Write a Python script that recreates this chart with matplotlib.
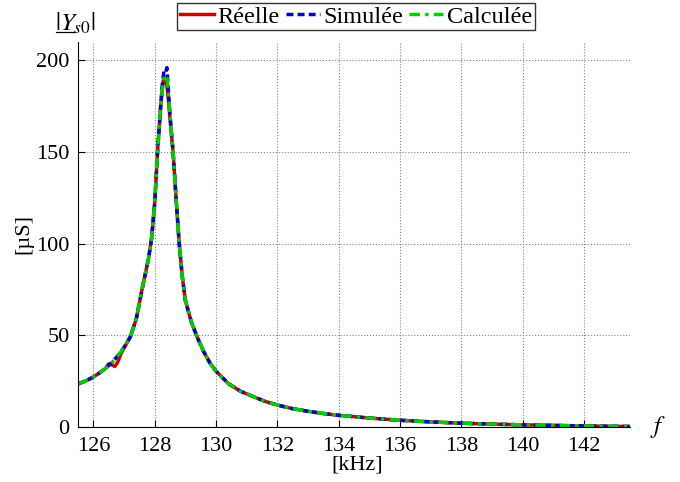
import matplotlib
matplotlib.use('Agg')
from matplotlib import pyplot as plt
from matplotlib.lines import Line2D

freq = [125.5, 125.8, 126.0, 126.2, 126.4, 126.5, 126.6, 126.7, 126.8, 126.9,
        127.0, 127.2, 127.4, 127.6, 127.8, 127.9, 128.0, 128.1, 128.2, 128.25,
        128.3, 128.35, 128.4, 128.45, 128.5, 128.6, 128.7, 128.8, 128.9, 129.0,
        129.2, 129.4, 129.6, 129.8, 130.0, 130.4, 130.8, 131.2, 131.6, 132.0,
        132.5, 133.0, 133.5, 134.0, 135.0, 136.0, 137.0, 138.0, 139.0, 140.0,
        141.0, 142.0, 143.0, 143.5]

reelle = [23.5, 25.5, 27.3, 29.5, 32.0, 34.5, 34.0, 33.0, 35.5, 40.0,
          43.0, 49.0, 59.0, 76.0, 92.0, 103, 122, 152, 176, 185,
          191, 190, 186, 178, 168, 150, 124, 100, 82, 69,
          57, 48.5, 41, 35, 30.5, 23.7, 19.5, 16.7, 14.0, 12.0,
          10.0, 8.6, 7.4, 6.4, 4.9, 3.7, 2.8, 2.1, 1.6, 1.2,
          0.9, 0.6, 0.4, 0.3]

simulee = [23.5, 25.5, 27.3, 29.5, 32.0, 33.5, 35.0, 37.0, 39.0, 41.0,
           43.5, 49.0, 59.0, 76.0, 92.0, 103, 122, 152, 176, 187,
           194, 193, 196, 183, 170, 150, 124, 100, 82, 69,
           57, 48.5, 41, 35, 30.5, 23.7, 19.5, 16.7, 14.0, 12.0,
           10.0, 8.6, 7.4, 6.4, 4.9, 3.7, 2.8, 2.1, 1.6, 1.2,
           0.9, 0.6, 0.4, 0.3]

calculee = [23.5, 25.5, 27.3, 29.5, 32.0, 33.5, 35.0, 37.0, 39.0, 41.0,
            43.5, 49.0, 59.0, 76.0, 92.0, 103, 122, 152, 176, 184,
            190, 192, 191, 182, 169, 150, 124, 100, 82, 69,
            57, 48.5, 41, 35, 30.5, 23.7, 19.5, 16.7, 14.0, 12.0,
            10.0, 8.6, 7.4, 6.4, 4.9, 3.7, 2.8, 2.1, 1.6, 1.2,
            0.9, 0.6, 0.4, 0.3]

x_ticks = [126, 128, 130, 132, 134, 136, 138, 140, 142]
y_ticks = [0, 50, 100, 150, 200]

plt.rcParams['font.family'] = ['Liberation Serif', 'DejaVu Serif']
plt.rcParams['mathtext.fontset'] = 'stix'
plt.rcParams['font.size'] = 16

fig = plt.figure(figsize=(6.8, 4.82), dpi=100)
ax = fig.add_axes([0.1147, 0.114, 0.812, 0.799])

ax.plot(freq, reelle, color=(0.8, 0.0, 0.0), linewidth=2.5, label="Réelle")
ax.plot(freq, simulee, color=(0.0, 0.0, 0.8), linewidth=2.5, linestyle=(0, (2, 1.2)), label="Simulée")
ax.plot(freq, calculee, color=(0.0, 0.8, 0.0), linewidth=2.5, linestyle=(0, (3, 1.5, 1, 1.5)), label="Calculée")

ax.set_xlim(125.5, 143.5)
ax.set_ylim(0, 210)
ax.set_xticks(x_ticks)
ax.set_yticks(y_ticks)
ax.tick_params(direction='in', length=5, width=0.8)
ax.tick_params(axis='x', pad=7)
ax.tick_params(axis='y', pad=6)
ax.grid(which='major', linestyle=':', color='0.5', linewidth=0.8)
ax.spines['top'].set_visible(False)
ax.spines['right'].set_visible(False)

ax.set_ylabel("[µS]", labelpad=2)
fig.text(0.525, 0.036, "[kHz]", ha='center', va='center')

fig.text(0.111, 0.952, r"$|Y_{s0}|$", ha='center', va='center', fontsize=18)
# underline under the Y
fig.add_artist(Line2D([0.083, 0.110], [0.933, 0.933], color='black', linewidth=0.9,
                      transform=fig.transFigure))
fig.text(0.968, 0.114, r"$f$", ha='center', va='center', fontsize=18)

leg = fig.legend(loc='upper center', bbox_to_anchor=(0.5235, 0.993), ncol=3,
                 frameon=True, fancybox=False, handlelength=1.4, handletextpad=0.15,
                 columnspacing=0.25, borderpad=0.1, borderaxespad=0.0, fontsize=17.5)
leg.get_frame().set_edgecolor('black')
leg.get_frame().set_linewidth(1.0)

plt.savefig("out.png", dpi=100)
plt.close(fig)
